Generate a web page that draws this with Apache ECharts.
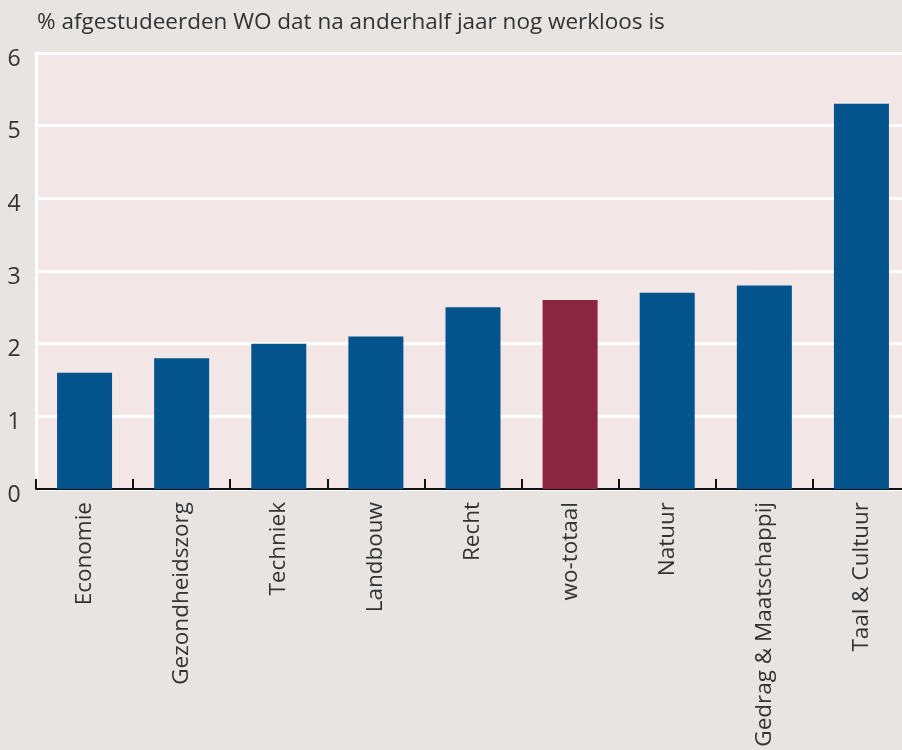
<!DOCTYPE html>
<html>
<head>
<meta charset="utf-8">
<script src="https://cdn.jsdelivr.net/npm/echarts@6/dist/echarts.min.js"></script>
<style>
html,body{margin:0;padding:0;background:#e8e4e1;overflow:hidden;width:902px;height:750px;}
#c{width:910px;height:750px;}
</style>
</head>
<body>
<div id="c"></div>
<script>
const title = "% afgestudeerden WO dat na anderhalf jaar nog werkloos is";
const categories = ["Economie","Gezondheidszorg","Techniek","Landbouw","Recht","wo-totaal","Natuur","Gedrag & Maatschappij","Taal & Cultuur"];
const values = [1.6, 1.8, 2.0, 2.1, 2.5, 2.6, 2.7, 2.8, 5.3];
const highlighted = ["wo-totaal"];
const yTicks = [0, 1, 2, 3, 4, 5, 6];

const FONT = "'Open Sans', sans-serif";
const chart = echarts.init(document.getElementById('c'), null, {renderer: 'canvas'});
chart.setOption({
  backgroundColor: '#e8e4e1',
  animation: false,
  title: {
    text: title, left: 32, top: 6,
    textStyle: {fontFamily: FONT, fontSize: 22.5, fontWeight: 'normal', color: '#333'}
  },
  grid: {
    left: 36, top: 53, right: 0, bottom: 261, show: true,
    backgroundColor: '#f2e6e7', borderWidth: 0
  },
  xAxis: {
    type: 'category', data: categories,
    axisLine: {lineStyle: {color: '#111', width: 2}},
    axisTick: {show: true, inside: true, length: 10, lineStyle: {color: '#111', width: 2}},
    axisLabel: {rotate: 90, margin: 13, fontFamily: FONT, fontSize: 22.5, color: '#333'}
  },
  yAxis: {
    type: 'value', min: yTicks[0], max: yTicks[yTicks.length - 1], interval: 1,
    axisLine: {show: true, lineStyle: {color: '#ffffff', width: 3}},
    axisTick: {show: false},
    splitLine: {lineStyle: {color: '#ffffff', width: 3}},
    axisLabel: {align: 'center', verticalAlign: 'top', lineHeight: 12, margin: 22, fontFamily: FONT, fontSize: 23, color: '#333'}
  },
  series: [{
    type: 'bar', barWidth: 55,
    data: categories.map((c, i) => ({
      value: values[i],
      itemStyle: {color: highlighted.includes(c) ? '#8a2641' : '#03548c'}
    }))
  }]
});
</script>
</body>
</html>
